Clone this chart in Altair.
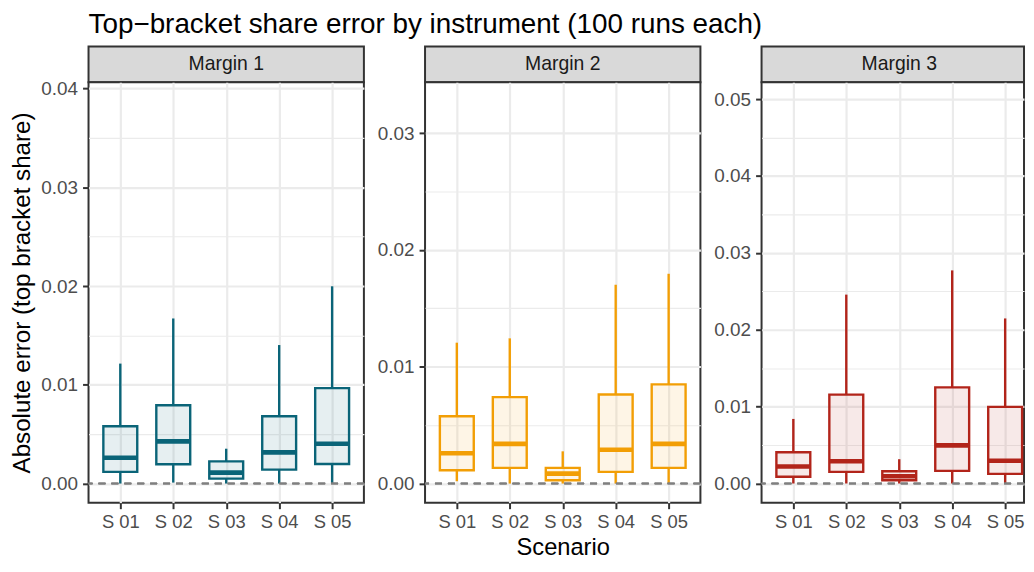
import altair as alt
import pandas as pd

FONT = "Liberation Sans"

scenarios = ["S 01", "S 02", "S 03", "S 04", "S 05"]
scenario_pos = [1, 2, 3, 4, 5]
margins = ["Margin 1", "Margin 2", "Margin 3"]
colors = ["#0A6478", "#F29E05", "#B2241A"]

# five-number summaries (whisker low, Q1, median, Q3, whisker high)
m1_low = [0.0000, 0.0001, 0.0000, 0.0000, 0.0000]
m1_q1 = [0.00118, 0.00195, 0.00050, 0.00141, 0.00198]
m1_med = [0.00262, 0.00427, 0.00111, 0.00316, 0.00403]
m1_q3 = [0.00581, 0.00793, 0.00225, 0.00682, 0.00967]
m1_high = [0.01215, 0.01672, 0.00353, 0.01403, 0.01998]

m2_low = [0.0002, 0.0000, 0.0000, 0.0000, 0.0000]
m2_q1 = [0.00114, 0.00134, 0.00028, 0.00100, 0.00134]
m2_med = [0.00259, 0.00340, 0.00085, 0.00289, 0.00340]
m2_q3 = [0.00576, 0.00740, 0.00134, 0.00763, 0.00849]
m2_high = [0.01206, 0.01243, 0.00276, 0.01702, 0.01796]

m3_low = [0.0000, 0.0000, 0.0000, 0.0000, 0.0000]
m3_q1 = [0.00087, 0.00151, 0.00043, 0.00164, 0.00125]
m3_med = [0.00220, 0.00290, 0.00095, 0.00496, 0.00297]
m3_q3 = [0.00406, 0.01156, 0.00160, 0.01250, 0.00996]
m3_high = [0.00840, 0.02457, 0.00316, 0.02772, 0.02147]

lows = [m1_low, m2_low, m3_low]
q1s = [m1_q1, m2_q1, m3_q1]
meds = [m1_med, m2_med, m3_med]
q3s = [m1_q3, m2_q3, m3_q3]
highs = [m1_high, m2_high, m3_high]

y_domains = [[-0.00194, 0.04065], [-0.00164, 0.03436], [-0.0025, 0.0522]]
major_ticks = [[0.0, 0.01, 0.02, 0.03, 0.04], [0.0, 0.01, 0.02, 0.03], [0.0, 0.01, 0.02, 0.03, 0.04, 0.05]]
minor_ticks = [[0.005, 0.015, 0.025, 0.035], [0.005, 0.015, 0.025], [0.005, 0.015, 0.025, 0.035, 0.045]]

title_text = "Top\u2212bracket share error by instrument (100 runs each)"
y_title = "Absolute error (top bracket share)"
x_title = "Scenario"

W, H_PLOT, H_STRIP = 277, 423, 36
# the last panel runs off the right edge of the picture: its view is cut
# short and its x domain is cut by the same fraction
W_LAST = 264
X_LO, X_HI = 0.4, 5.6
X_HI_LAST = X_LO + (X_HI - X_LO) * W_LAST / W
BOX_HALF = 0.32
GRID = "#EBEBEB"
DARK = "#333333"
LW = 2.4

label_expr = "[" + ",".join("'%s'" % s for s in scenarios) + "][datum.value - 1]"


def make_panel(i):
    df = pd.DataFrame({
        "pos": scenario_pos, "scenario": scenarios,
        "low": lows[i], "q1": q1s[i], "med": meds[i], "q3": q3s[i], "high": highs[i],
    })
    col = colors[i]
    width = W_LAST if i == 2 else W
    xdom = [X_LO, X_HI_LAST if i == 2 else X_HI]
    xscale = alt.Scale(domain=xdom, nice=False, zero=False)
    yscale = alt.Scale(domain=y_domains[i], nice=False, zero=False)

    x_axis = alt.Axis(
        title=x_title if i == 1 else None,
        values=scenario_pos, labelExpr=label_expr,
        grid=True, gridColor=GRID, gridWidth=2.2, domain=False,
        ticks=True, tickSize=6, tickWidth=2, tickColor=DARK,
        labelFont=FONT, labelFontSize=18.5, labelColor="#4D4D4D",
        labelPadding=4, labelAngle=0, labelFlush=False, labelOverlap=False,
        titleFont=FONT, titleFontSize=23.8, titleColor="black",
        titleFontWeight="normal", titlePadding=5,
    )
    major_axis = alt.Axis(
        title=y_title if i == 0 else None,
        values=major_ticks[i], format=".2f", grid=True, gridColor=GRID, gridWidth=2.2,
        domain=False, tickSize=6, tickWidth=2, tickColor=DARK,
        labelFont=FONT, labelFontSize=19, labelColor="#4D4D4D", labelPadding=5,
        labelFlush=False, labelOverlap=False,
        minExtent=50, maxExtent=50,
        titleFont=FONT, titleFontSize=24.3, titleFontWeight="normal",
        titleColor="black", titlePadding=4,
    )
    minor_axis = alt.Axis(orient="right", values=minor_ticks[i], grid=True,
                          gridColor=GRID, gridWidth=1.1, labels=False, ticks=False,
                          domain=False, title=None, minExtent=0, maxExtent=0)

    base = alt.Chart(df).transform_calculate(
        x0="datum.pos - %f" % BOX_HALF, x1="datum.pos + %f" % BOX_HALF)
    xpos = alt.X("pos:Q", scale=xscale, axis=x_axis)
    lower = base.mark_rule(color=col, strokeWidth=LW).encode(
        x=xpos, y=alt.Y("low:Q", scale=yscale, axis=minor_axis), y2="q1:Q")
    upper = base.mark_rule(color=col, strokeWidth=LW).encode(
        x=alt.X("pos:Q", scale=xscale, axis=None),
        y=alt.Y("q3:Q", scale=yscale, axis=None), y2="high:Q")
    box = base.mark_rect(fill=col, fillOpacity=0.1, stroke=col, strokeWidth=LW).encode(
        x=alt.X("x0:Q", scale=xscale, axis=None), x2="x1:Q",
        y=alt.Y("q1:Q", scale=yscale, axis=major_axis), y2="q3:Q")
    median = base.mark_rule(color=col, strokeWidth=4.6).encode(
        x=alt.X("x0:Q", scale=xscale, axis=None), x2="x1:Q",
        y=alt.Y("med:Q", scale=yscale, axis=None))
    zero = base.mark_rule(color="#7F7F7F", strokeWidth=1.6, strokeDash=[7, 6]).encode(
        y=alt.YDatum(0, scale=yscale, axis=None))

    panel = alt.layer(lower, upper, box, median, zero).resolve_axis(
        x="independent", y="independent").properties(width=width, height=H_PLOT)

    strip = alt.Chart(pd.DataFrame({"m": [margins[i]]})).mark_text(
        font=FONT, fontSize=19.5, color="#1A1A1A", dx=(W - width) / 2).encode(
        text="m:N").properties(
        width=width, height=H_STRIP,
        view=alt.ViewBackground(fill="#D9D9D9", stroke=DARK, strokeWidth=2))
    return alt.vconcat(strip, panel, spacing=0, bounds="flush")


cols = [make_panel(i) for i in range(3)]

chart = alt.hconcat(*cols, spacing=8.5).properties(
    title=alt.TitleParams(title_text, font=FONT, fontSize=28, fontWeight="normal",
                          color="black", anchor="start", frame="group",
                          baseline="top", offset=6),
    padding={"left": 2, "top": 2, "right": 0, "bottom": 0},
).configure_view(stroke=DARK, strokeWidth=2, fill="white")

chart.save("out.html", embed_options={"renderer": "svg", "actions": False})
